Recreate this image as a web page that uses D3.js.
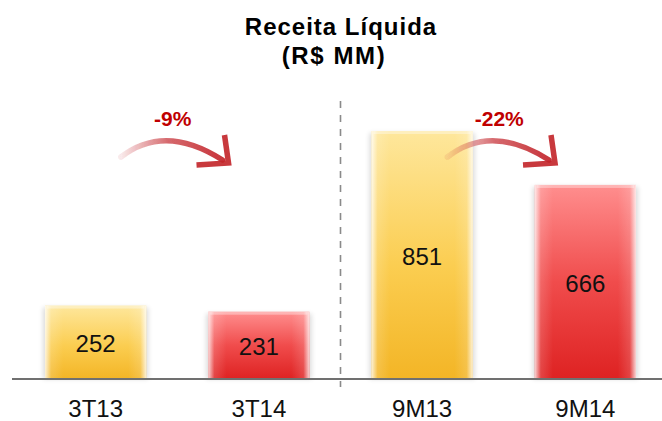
<!DOCTYPE html>
<html>
<head>
<meta charset="utf-8">
<script src="https://cdn.jsdelivr.net/npm/d3@7"></script>
<style>
  body { margin: 0; background: #fff; }
  svg { display: block; font-family: Arial, "Liberation Sans", sans-serif; }
</style>
</head>
<body>
<div id="chart"></div>
<script>
// Receita Líquida (R$ MM)
var categories = ["3T13", "3T14", "9M13", "9M14"];
var values = [252, 231, 851, 666];
var kinds = ["yellow", "red", "yellow", "red"];
var changes = [{from: 0, to: 1, label: "-9%"}, {from: 2, to: 3, label: "-22%"}];

var width = 662, height = 421;
var baseY = 379;

var svg = d3.select("#chart").append("svg")
    .attr("width", width)
    .attr("height", height)
    .attr("viewBox", [0, 0, width, height]);

var defs = svg.append("defs");

// gradients for the two bar colours
var gy = defs.append("linearGradient").attr("id", "gYellow").attr("x1", 0).attr("y1", 0).attr("x2", 0).attr("y2", 1);
gy.append("stop").attr("offset", "0%").attr("stop-color", "#fee79c");
gy.append("stop").attr("offset", "55%").attr("stop-color", "#fbcd50");
gy.append("stop").attr("offset", "100%").attr("stop-color", "#f3b526");

var gr = defs.append("linearGradient").attr("id", "gRed").attr("x1", 0).attr("y1", 0).attr("x2", 0).attr("y2", 1);
gr.append("stop").attr("offset", "0%").attr("stop-color", "#ff8e8e");
gr.append("stop").attr("offset", "50%").attr("stop-color", "#f04c4c");
gr.append("stop").attr("offset", "100%").attr("stop-color", "#de2222");

// light edges on each side of the bars
var ge = defs.append("linearGradient").attr("id", "gEdge").attr("x1", 0).attr("y1", 0).attr("x2", 1).attr("y2", 0);
ge.append("stop").attr("offset", "0%").attr("stop-color", "#fff").attr("stop-opacity", 0.8);
ge.append("stop").attr("offset", "6%").attr("stop-color", "#fff").attr("stop-opacity", 0.15);
ge.append("stop").attr("offset", "18%").attr("stop-color", "#fff").attr("stop-opacity", 0);
ge.append("stop").attr("offset", "82%").attr("stop-color", "#fff").attr("stop-opacity", 0);
ge.append("stop").attr("offset", "94%").attr("stop-color", "#fff").attr("stop-opacity", 0.15);
ge.append("stop").attr("offset", "100%").attr("stop-color", "#fff").attr("stop-opacity", 0.8);

defs.append("filter").attr("id", "shadow").attr("x", "-20%").attr("y", "-20%").attr("width", "140%").attr("height", "140%")
  .append("feGaussianBlur").attr("stdDeviation", 2.5);

defs.append("filter").attr("id", "soft")
  .append("feGaussianBlur").attr("stdDeviation", 0.7);

// scales
var xScale = d3.scaleBand()
    .domain(categories)
    .range([14, 667])
    .paddingInner(0.38)
    .paddingOuter(0.19);

var yScale = d3.scaleLinear()
    .domain([0, 1000])
    .range([baseY, baseY - 291.4]);

var bw = xScale.bandwidth();

// title
svg.append("text")
    .attr("x", 341).attr("y", 35)
    .attr("text-anchor", "middle")
    .style("font-size", "24px").style("font-weight", "bold")
    .style("letter-spacing", "1px")
    .text("Receita Líquida");
svg.append("text")
    .attr("x", 334).attr("y", 64)
    .attr("text-anchor", "middle")
    .style("font-size", "24px").style("font-weight", "bold")
    .style("letter-spacing", "1.6px")
    .text("(R$ MM)");

// bars
var bars = svg.append("g")
  .selectAll("g")
  .data(categories)
  .join("g");

bars.append("rect")
    .attr("x", d => xScale(d) - 2)
    .attr("y", (d, i) => yScale(values[i]) + 2)
    .attr("width", bw + 4)
    .attr("height", (d, i) => baseY - yScale(values[i]) - 2)
    .attr("fill", "#000")
    .attr("opacity", 0.14)
    .attr("filter", "url(#shadow)");

bars.append("rect")
    .attr("x", d => xScale(d))
    .attr("y", (d, i) => yScale(values[i]))
    .attr("width", bw)
    .attr("height", (d, i) => baseY - yScale(values[i]))
    .attr("fill", (d, i) => kinds[i] === "yellow" ? "url(#gYellow)" : "url(#gRed)");

bars.append("rect")
    .attr("x", d => xScale(d))
    .attr("y", (d, i) => yScale(values[i]))
    .attr("width", bw)
    .attr("height", (d, i) => baseY - yScale(values[i]))
    .attr("fill", "url(#gEdge)");

// top highlight line
bars.append("rect")
    .attr("x", d => xScale(d) + 2)
    .attr("y", (d, i) => yScale(values[i]))
    .attr("width", bw - 4)
    .attr("height", 3)
    .attr("fill", "#fff")
    .attr("opacity", 0.35);

bars.append("text")
    .attr("x", d => xScale(d) + bw / 2)
    .attr("y", (d, i) => (yScale(values[i]) + baseY) / 2 + 10)
    .attr("text-anchor", "middle")
    .style("font-size", "24px")
    .attr("fill", "#111")
    .text((d, i) => values[i]);

// dashed separator between quarter and nine-month groups
var sepX = (xScale(categories[1]) + bw + xScale(categories[2])) / 2;
svg.append("line")
    .attr("x1", sepX).attr("x2", sepX)
    .attr("y1", 101).attr("y2", baseY + 8)
    .attr("stroke", "#8a8a8a")
    .attr("stroke-width", 1.6)
    .attr("stroke-dasharray", "7,7");

// x axis
var xAxis = d3.axisBottom(xScale).tickSize(0).tickPadding(21);
svg.append("g")
    .attr("transform", `translate(0,${baseY})`)
    .call(xAxis)
    .call(g => g.select(".domain").attr("d", `M12,0H${width}`).attr("stroke", "#707070").attr("stroke-width", 2))
    .call(g => g.selectAll(".tick text")
        .style("font-size", "24px")
        .style("font-family", "Arial, 'Liberation Sans', sans-serif")
        .attr("fill", "#111"));

// curved arrows with percentage change
changes.forEach(function (c, k) {
  var x0 = xScale(categories[c.from]) + bw * 0.75;
  var x1 = xScale(categories[c.to]) + bw * 0.2;
  var tailY = 157, tipY = 163;
  var id = "gArrow" + k;
  var ga = defs.append("linearGradient").attr("id", id)
      .attr("gradientUnits", "userSpaceOnUse")
      .attr("x1", x0).attr("y1", 0).attr("x2", x1).attr("y2", 0);
  ga.append("stop").attr("offset", "0%").attr("stop-color", "#c3262c").attr("stop-opacity", 0.1);
  ga.append("stop").attr("offset", "45%").attr("stop-color", "#c3262c").attr("stop-opacity", 0.7);
  ga.append("stop").attr("offset", "100%").attr("stop-color", "#c3262c").attr("stop-opacity", 0.95);

  var g = svg.append("g").attr("filter", "url(#soft)");
  var mid = (x0 + x1) / 2;
  g.append("path")
      .attr("d", `M${x0},${tailY} Q${mid - 10},${tailY - 34} ${x1 - 6},${tipY - 3}`)
      .attr("fill", "none")
      .attr("stroke", `url(#${id})`)
      .attr("stroke-width", 5.5)
      .attr("stroke-linecap", "round");
  g.append("path")
      .attr("d", `M${x1 - 4},${tipY - 28} L${x1},${tipY} L${x1 - 32},${tipY + 2}`)
      .attr("fill", "none")
      .attr("stroke", "#c3262c")
      .attr("stroke-opacity", 0.92)
      .attr("stroke-width", 5.5)
      .attr("stroke-linejoin", "miter");

  svg.append("text")
      .attr("x", mid - 2)
      .attr("y", 126)
      .attr("text-anchor", "middle")
      .style("font-size", "21px")
      .style("font-weight", "bold")
      .attr("fill", "#c00000")
      .text(c.label);
});
</script>
</body>
</html>
